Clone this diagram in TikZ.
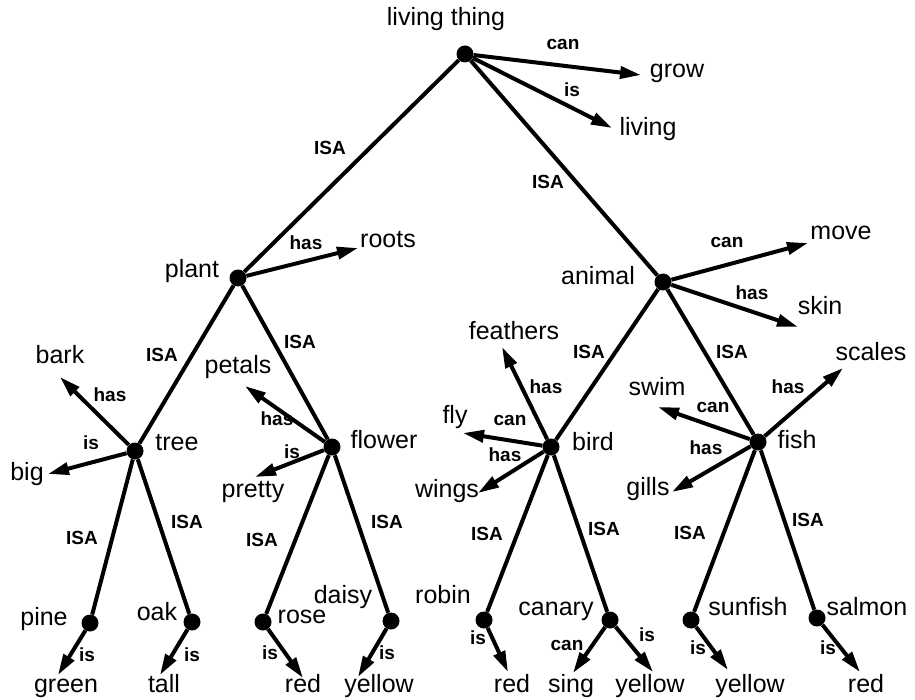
\documentclass[tikz,border=0pt]{standalone}
\usepackage{fontspec}
\setmainfont{Liberation Sans}
\usetikzlibrary{arrows.meta}
\begin{document}
\begin{tikzpicture}[x=1pt,y=-1pt,
  dot/.style={circle,fill=black,inner sep=0pt,minimum size=17pt},
  concept/.style={font=\fontsize{25}{30}\selectfont,inner sep=0pt,anchor=base},
  rel/.style={font=\bfseries\fontsize{19}{22}\selectfont,inner sep=0pt},
  isa/.style={line width=4pt},
  arr/.style={line width=4pt,-{Triangle[length=21pt,width=12pt]}}]
\useasboundingbox (0,0) rectangle (915,700);
% dots
\node[dot] (lt) at (465,54) {};
\node[dot] (plant) at (238,278) {};
\node[dot] (animal) at (663,282) {};
\node[dot] (tree) at (135,451) {};
\node[dot] (flower) at (332,447) {};
\node[dot] (bird) at (551,447) {};
\node[dot] (fish) at (758,442) {};
\node[dot] (pine) at (90,623) {};
\node[dot] (oak) at (192,622) {};
\node[dot] (rose) at (263,622) {};
\node[dot] (daisy) at (391,621) {};
\node[dot] (robin) at (484,620) {};
\node[dot] (canary) at (610,620) {};
\node[dot] (sunfish) at (691,620) {};
\node[dot] (salmon) at (817,618) {};
% arrow tips
\coordinate (tgrow) at (641,75);
\coordinate (tliving) at (612,128);
\coordinate (troots) at (358,248);
\coordinate (tmove) at (808,243);
\coordinate (tskin) at (798,327);
\coordinate (tbark) at (60,377);
\coordinate (tbig) at (48,474);
\coordinate (tpetals) at (245,386);
\coordinate (tpretty) at (255,477);
\coordinate (tfeathers) at (502,347);
\coordinate (tfly) at (463,433);
\coordinate (twings) at (478,493);
\coordinate (tscales) at (843,368);
\coordinate (tswim) at (658,407);
\coordinate (tgills) at (672,492);
\coordinate (tgreen) at (58,675);
\coordinate (ttall) at (160,675);
\coordinate (tred1) at (303,678);
\coordinate (tyellow1) at (358,677);
\coordinate (tred2) at (508,672);
\coordinate (tsing) at (573,673);
\coordinate (tyellow2) at (653,672);
\coordinate (tyellow3) at (728,670);
\coordinate (tred3) at (860,672);
% ISA edges
\draw[isa] (lt) -- (plant);
\draw[isa] (lt) -- (animal);
\draw[isa] (plant) -- (tree);
\draw[isa] (plant) -- (flower);
\draw[isa] (animal) -- (bird);
\draw[isa] (animal) -- (fish);
\draw[isa] (tree) -- (pine);
\draw[isa] (tree) -- (oak);
\draw[isa] (flower) -- (rose);
\draw[isa] (flower) -- (daisy);
\draw[isa] (bird) -- (robin);
\draw[isa] (bird) -- (canary);
\draw[isa] (fish) -- (sunfish);
\draw[isa] (fish) -- (salmon);
% property arrows
\draw[arr] (lt) -- (tgrow);
\draw[arr] (lt) -- (tliving);
\draw[arr] (plant) -- (troots);
\draw[arr] (animal) -- (tmove);
\draw[arr] (animal) -- (tskin);
\draw[arr] (tree) -- (tbark);
\draw[arr] (tree) -- (tbig);
\draw[arr] (flower) -- (tpetals);
\draw[arr] (flower) -- (tpretty);
\draw[arr] (bird) -- (tfeathers);
\draw[arr] (bird) -- (tfly);
\draw[arr] (bird) -- (twings);
\draw[arr] (fish) -- (tscales);
\draw[arr] (fish) -- (tswim);
\draw[arr] (fish) -- (tgills);
\draw[arr] (pine) -- (tgreen);
\draw[arr] (oak) -- (ttall);
\draw[arr] (rose) -- (tred1);
\draw[arr] (daisy) -- (tyellow1);
\draw[arr] (robin) -- (tred2);
\draw[arr] (canary) -- (tsing);
\draw[arr] (canary) -- (tyellow2);
\draw[arr] (sunfish) -- (tyellow3);
\draw[arr] (salmon) -- (tred3);
% concept texts
\node[concept] (xlt) at (446,26) {living thing};
\node[concept] (xgrow) at (677,78) {grow};
\node[concept] (xliving) at (648,136) {living};
\node[concept] (xroots) at (388,248) {roots};
\node[concept] (xplant) at (192,278) {plant};
\node[concept] (xanimal) at (598,285) {animal};
\node[concept] (xmove) at (841,240) {move};
\node[concept] (xskin) at (820,315) {skin};
\node[concept] (xbark) at (60,363) {bark};
\node[concept] (xtree) at (177,450) {tree};
\node[concept] (xbig) at (27,480) {big};
\node[concept] (xpetals) at (238,373) {petals};
\node[concept] (xflower) at (384,448) {flower};
\node[concept] (xpretty) at (253,497) {pretty};
\node[concept] (xfeathers) at (514,340) {feathers};
\node[concept] (xfly) at (455,423) {fly};
\node[concept] (xbird) at (593,450) {bird};
\node[concept] (xwings) at (447,497) {wings};
\node[concept] (xswim) at (657,395) {swim};
\node[concept] (xfish) at (797,448) {fish};
\node[concept] (xscales) at (871,360) {scales};
\node[concept] (xgills) at (648,495) {gills};
\node[concept] (xpine) at (44,625) {pine};
\node[concept] (xoak) at (157,620) {oak};
\node[concept] (xrose) at (302,623) {rose};
\node[concept] (xdaisy) at (343,603) {daisy};
\node[concept] (xrobin) at (443,603) {robin};
\node[concept] (xcanary) at (556,615) {canary};
\node[concept] (xsunfish) at (748,615) {sunfish};
\node[concept] (xsalmon) at (867,615) {salmon};
\node[concept] (xgreen) at (66,692) {green};
\node[concept] (xtall) at (164,692) {tall};
\node[concept] (xred1) at (303,692) {red};
\node[concept] (xyellow1) at (379,692) {yellow};
\node[concept] (xred2) at (512,692) {red};
\node[concept] (xsing) at (571,692) {sing};
\node[concept] (xyellow2) at (650,692) {yellow};
\node[concept] (xyellow3) at (750,692) {yellow};
\node[concept] (xred3) at (866,692) {red};
% relation labels
\node[rel] (r1) at (330,148) {ISA};
\node[rel] (r2) at (548,182) {ISA};
\node[rel] (r3) at (162,355) {ISA};
\node[rel] (r4) at (300,342) {ISA};
\node[rel] (r5) at (589,352) {ISA};
\node[rel] (r6) at (732,352) {ISA};
\node[rel] (r7) at (82,538) {ISA};
\node[rel] (r8) at (187,522) {ISA};
\node[rel] (r9) at (262,540) {ISA};
\node[rel] (r10) at (387,522) {ISA};
\node[rel] (r11) at (487,534) {ISA};
\node[rel] (r12) at (604,529) {ISA};
\node[rel] (r13) at (690,533) {ISA};
\node[rel] (r14) at (808,520) {ISA};
\node[rel] (p1) at (563,44) {can};
\node[rel] (p2) at (572,90) {is};
\node[rel] (p3) at (306,243) {has};
\node[rel] (p4) at (727,242) {can};
\node[rel] (p5) at (752,293) {has};
\node[rel] (p6) at (110,395) {has};
\node[rel] (p7) at (91,443) {is};
\node[rel] (p8) at (277,419) {has};
\node[rel] (p9) at (292,452) {is};
\node[rel] (p10) at (546,387) {has};
\node[rel] (p11) at (510,420) {can};
\node[rel] (p12) at (505,455) {has};
\node[rel] (p13) at (788,387) {has};
\node[rel] (p14) at (713,407) {can};
\node[rel] (p15) at (706,448) {has};
\node[rel] (p16) at (87,655) {is};
\node[rel] (p17) at (192,655) {is};
\node[rel] (p18) at (270,653) {is};
\node[rel] (p19) at (387,653) {is};
\node[rel] (p20) at (478,638) {is};
\node[rel] (p21) at (567,645) {can};
\node[rel] (p22) at (647,635) {is};
\node[rel] (p23) at (698,648) {is};
\node[rel] (p24) at (828,648) {is};
\end{tikzpicture}
\end{document}
